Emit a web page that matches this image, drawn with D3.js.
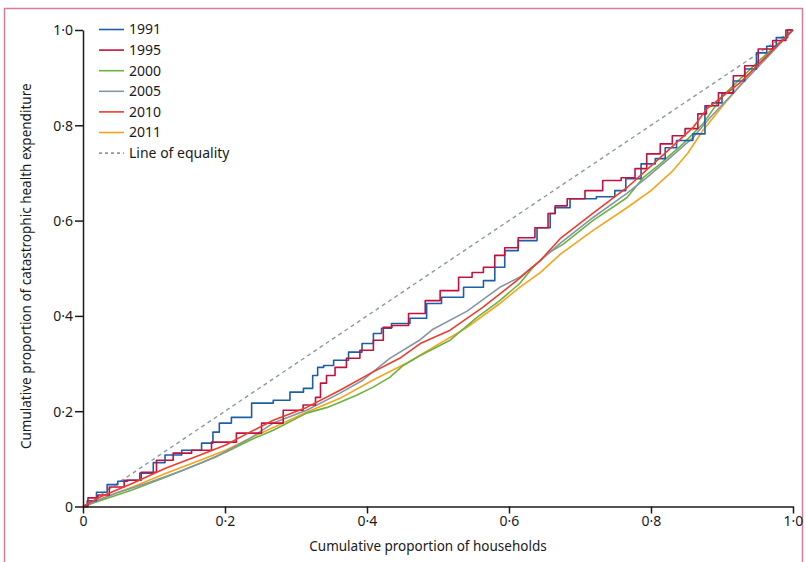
<!DOCTYPE html>
<html>
<head>
<meta charset="utf-8">
<script src="https://cdn.jsdelivr.net/npm/d3@7"></script>
<style>
  body { margin: 0; background: #fff; }
  svg text { font-family: "Noto Sans", sans-serif; fill: #1a1a1a; }
</style>
</head>
<body>
<div id="wrapper"></div>
<script>
// cumulative proportion of households (x) vs cumulative proportion of catastrophic expenditure (y)
const s1991 = [[0,0],[0.012,0.012],[0.026,0.030],[0.042,0.046],[0.056,0.053],[0.070,0.055],[0.090,0.070],[0.108,0.092],[0.123,0.108],[0.155,0.118],[0.179,0.133],[0.187,0.156],[0.197,0.175],[0.221,0.187],[0.254,0.217],[0.282,0.223],[0.301,0.240],[0.320,0.248],[0.327,0.275],[0.334,0.292],[0.344,0.296],[0.362,0.307],[0.386,0.324],[0.400,0.342],[0.418,0.363],[0.423,0.374],[0.446,0.384],[0.475,0.395],[0.493,0.426],[0.517,0.439],[0.555,0.460],[0.573,0.474],[0.587,0.502],[0.601,0.537],[0.625,0.558],[0.654,0.585],[0.662,0.615],[0.668,0.627],[0.704,0.646],[0.742,0.650],[0.756,0.663],[0.773,0.688],[0.799,0.719],[0.813,0.730],[0.827,0.753],[0.845,0.768],[0.873,0.782],[0.879,0.841],[0.893,0.847],[0.907,0.868],[0.925,0.893],[0.939,0.918],[0.958,0.952],[0.968,0.966],[0.985,0.984],[1,1]]
const s1995 = [[0,0],[0.014,0.018],[0.028,0.024],[0.046,0.041],[0.070,0.055],[0.094,0.072],[0.113,0.097],[0.141,0.112],[0.165,0.118],[0.197,0.135],[0.235,0.154],[0.268,0.175],[0.296,0.202],[0.324,0.213],[0.331,0.229],[0.338,0.259],[0.348,0.275],[0.362,0.292],[0.380,0.311],[0.400,0.328],[0.418,0.349],[0.428,0.376],[0.442,0.380],[0.475,0.405],[0.489,0.432],[0.517,0.453],[0.541,0.481],[0.555,0.491],[0.573,0.502],[0.587,0.527],[0.601,0.543],[0.625,0.564],[0.648,0.585],[0.662,0.615],[0.668,0.631],[0.696,0.646],[0.718,0.663],[0.746,0.684],[0.770,0.690],[0.785,0.709],[0.803,0.740],[0.823,0.761],[0.837,0.778],[0.859,0.793],[0.873,0.824],[0.883,0.841],[0.907,0.868],[0.925,0.904],[0.939,0.925],[0.963,0.960],[0.980,0.978],[1,1]]
const s2000 = [[0,0],[0.028,0.014],[0.070,0.035],[0.117,0.062],[0.165,0.091],[0.201,0.114],[0.235,0.139],[0.268,0.160],[0.315,0.196],[0.344,0.208],[0.362,0.219],[0.386,0.234],[0.408,0.250],[0.432,0.271],[0.451,0.296],[0.475,0.317],[0.517,0.349],[0.555,0.397],[0.587,0.432],[0.615,0.468],[0.634,0.502],[0.654,0.531],[0.676,0.550],[0.718,0.600],[0.766,0.648],[0.789,0.690],[0.813,0.719],[0.845,0.761],[0.873,0.803],[0.901,0.862],[0.949,0.931],[1,1]]
const s2005 = [[0,0],[0.046,0.028],[0.094,0.051],[0.141,0.076],[0.187,0.104],[0.235,0.143],[0.268,0.175],[0.315,0.202],[0.362,0.238],[0.394,0.265],[0.432,0.311],[0.475,0.350],[0.493,0.372],[0.541,0.410],[0.587,0.460],[0.615,0.481],[0.644,0.516],[0.672,0.552],[0.718,0.606],[0.766,0.657],[0.794,0.690],[0.827,0.732],[0.859,0.774],[0.883,0.816],[1,1]]
const s2010 = [[0,0],[0.024,0.020],[0.070,0.049],[0.117,0.081],[0.165,0.108],[0.201,0.129],[0.235,0.156],[0.268,0.181],[0.315,0.208],[0.362,0.244],[0.408,0.282],[0.446,0.311],[0.475,0.342],[0.517,0.370],[0.563,0.418],[0.611,0.474],[0.644,0.516],[0.672,0.562],[0.718,0.615],[0.766,0.669],[0.813,0.732],[0.859,0.795],[0.879,0.835],[0.925,0.889],[1,1]]
const s2011 = [[0,0],[0.028,0.018],[0.070,0.041],[0.117,0.070],[0.165,0.097],[0.201,0.118],[0.235,0.143],[0.268,0.166],[0.315,0.198],[0.362,0.227],[0.408,0.265],[0.456,0.301],[0.493,0.334],[0.541,0.376],[0.587,0.426],[0.615,0.460],[0.644,0.491],[0.672,0.529],[0.718,0.579],[0.766,0.627],[0.800,0.663],[0.831,0.705],[0.852,0.742],[0.873,0.789],[0.901,0.841],[0.949,0.925],[1,1]]
const equality = [[0,0],[1,1]]

const years = ["1991", "1995", "2000", "2005", "2010", "2011"]
const yearData = [s1991, s1995, s2000, s2005, s2010, s2011]
const colors = ["#1c5ea8", "#c1123f", "#6cb33e", "#8595a5", "#ef3b2e", "#f8a21d"]
const stepped = [true, true, false, false, false, false]
const tickValues = [0, 0.2, 0.4, 0.6, 0.8, 1]

const dimensions = {
    width: 806,
    height: 562,
    margin: { top: 30, right: 13, bottom: 55.5, left: 83 },
}
dimensions.boundedWidth = dimensions.width - dimensions.margin.left - dimensions.margin.right
dimensions.boundedHeight = dimensions.height - dimensions.margin.top - dimensions.margin.bottom

const wrapper = d3.select("#wrapper")
    .append("svg")
    .attr("width", dimensions.width)
    .attr("height", dimensions.height)

// pink frame round the figure
wrapper.append("rect")
    .attr("x", 4.5)
    .attr("y", 8.5)
    .attr("width", 798)
    .attr("height", 600)
    .attr("fill", "none")
    .attr("stroke", "#d87c97")
    .attr("stroke-width", 1.5)

const bounds = wrapper.append("g")
    .attr("transform", `translate(${dimensions.margin.left}, ${dimensions.margin.top})`)

const xScale = d3.scaleLinear().domain([0, 1]).range([0, dimensions.boundedWidth])
const yScale = d3.scaleLinear().domain([0, 1]).range([dimensions.boundedHeight, 0])

const fmt = d => d === 0 ? "0" : d3.format(".1f")(d).replace(".", "\u00b7")

const lineGen = d3.line()
    .x(d => xScale(d[0]))
    .y(d => yScale(d[1]))

bounds.append("path")
    .attr("d", lineGen(equality))
    .attr("fill", "none")
    .attr("stroke", "#8a99a8")
    .attr("stroke-width", 1.4)
    .attr("stroke-dasharray", "4 3.5")

const drawOrder = [5, 2, 3, 0, 1, 4]
drawOrder.forEach(i => {
    bounds.append("path")
        .attr("d", lineGen.curve(stepped[i] ? d3.curveStep : d3.curveLinear)(yearData[i]))
        .attr("fill", "none")
        .attr("stroke", colors[i])
        .attr("stroke-width", 1.6)
        .attr("stroke-linejoin", "round")
})

const xAxis = bounds.append("g")
    .attr("transform", `translate(0, ${dimensions.boundedHeight})`)
    .call(d3.axisBottom(xScale).tickValues(tickValues).tickFormat(fmt).tickSize(7).tickSizeOuter(0).tickPadding(3))
const yAxis = bounds.append("g")
    .call(d3.axisLeft(yScale).tickValues(tickValues).tickFormat(fmt).tickSize(8).tickSizeOuter(0).tickPadding(2))

;[xAxis, yAxis].forEach(ax => {
    ax.selectAll("path, line").attr("stroke", "#1a1a1a").attr("stroke-width", 1.5)
    ax.selectAll("text").attr("font-size", 14).attr("fill", "#1a1a1a")
        .style("font-family", "\"Noto Sans\", sans-serif")
})
yAxis.selectAll("text").attr("dy", "0.35em")

bounds.append("text")
    .attr("x", dimensions.boundedWidth / 2 - 10)
    .attr("y", dimensions.boundedHeight + 44)
    .attr("text-anchor", "middle")
    .attr("font-size", 13.5)
    .text("Cumulative proportion of households")

bounds.append("text")
    .attr("transform", `translate(-52, ${dimensions.boundedHeight / 2 - 2}) rotate(-90)`)
    .attr("text-anchor", "middle")
    .attr("font-size", 13.5)
    .text("Cumulative proportion of catastrophic health expenditure")

// legend
const legendItems = years.map((y, i) => ({ label: y, color: colors[i], dash: null }))
legendItems.push({ label: "Line of equality", color: "#8a99a8", dash: "3 3" })

const legend = wrapper.append("g")
    .attr("transform", "translate(99, 29.5)")
const rows = legend.selectAll("g")
    .data(legendItems)
    .join("g")
    .attr("transform", (d, i) => `translate(0, ${i * 20.6})`)
rows.append("line")
    .attr("x1", 0).attr("x2", 25)
    .attr("stroke", d => d.color)
    .attr("stroke-width", 1.6)
    .attr("stroke-dasharray", d => d.dash)
rows.append("text")
    .attr("x", 30)
    .attr("dy", "0.35em")
    .attr("font-size", 14)
    .text(d => d.label)
</script>
</body>
</html>
